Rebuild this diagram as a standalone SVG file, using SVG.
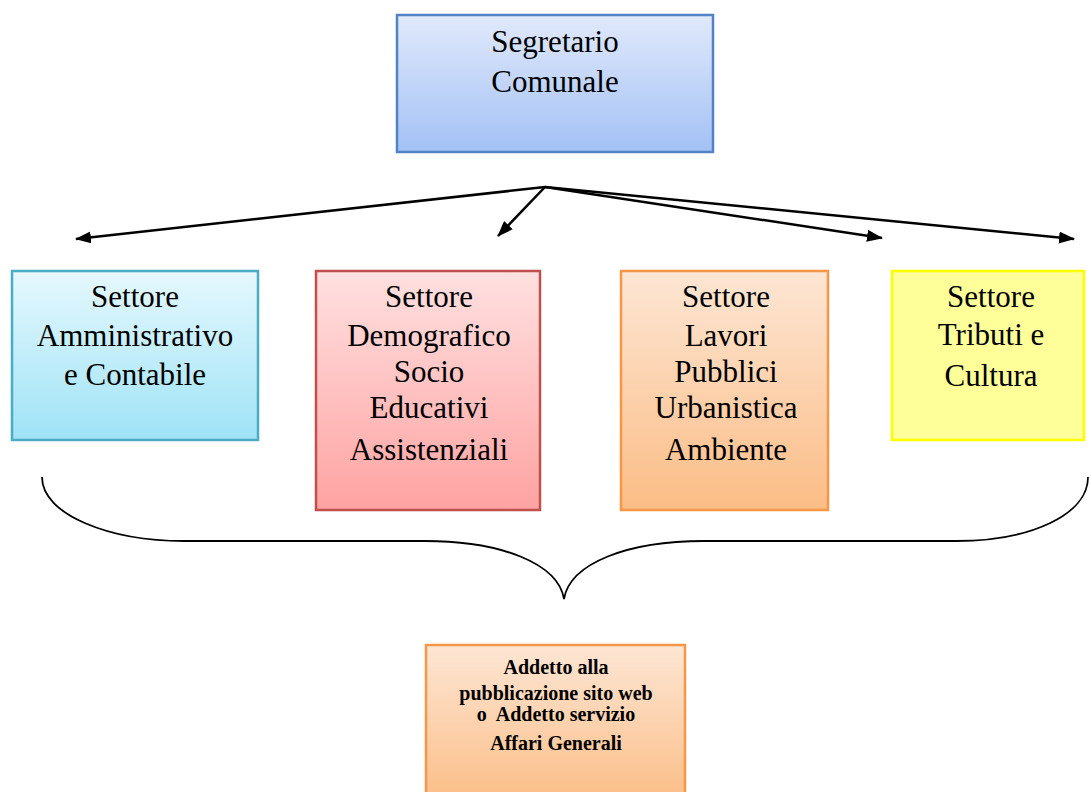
<svg xmlns="http://www.w3.org/2000/svg" width="1089" height="792" viewBox="0 0 1089 792">
  <style>
    .box { stroke-width: 2.5; }
    .t { font-family: "Liberation Serif", "Times New Roman", serif; font-size: 31px; fill: #000; text-anchor: middle; }
    .ts { font-family: "Liberation Serif", "Times New Roman", serif; font-size: 20px; font-weight: bold; fill: #000; text-anchor: middle; }
    .conn { fill: none; stroke: #000; stroke-width: 2.5; }
    .brace { fill: none; stroke: #000; stroke-width: 1.8; }
  </style>
  <defs>
    <linearGradient id="gBlue" x1="0" y1="0" x2="0" y2="1">
      <stop offset="0" stop-color="#e1e9fb"/>
      <stop offset="1" stop-color="#a3c1f5"/>
    </linearGradient>
    <linearGradient id="gCyan" x1="0" y1="0" x2="0" y2="1">
      <stop offset="0" stop-color="#e5f8fd"/>
      <stop offset="1" stop-color="#9fe3f7"/>
    </linearGradient>
    <linearGradient id="gRed" x1="0" y1="0" x2="0" y2="1">
      <stop offset="0" stop-color="#ffe0e0"/>
      <stop offset="1" stop-color="#fea3a2"/>
    </linearGradient>
    <linearGradient id="gOrange" x1="0" y1="0" x2="0" y2="1">
      <stop offset="0" stop-color="#fde6d4"/>
      <stop offset="1" stop-color="#fbbd86"/>
    </linearGradient>
    <marker id="arrow" viewBox="0 0 16 12" refX="15" refY="6" markerWidth="16" markerHeight="12" markerUnits="userSpaceOnUse" orient="auto">
      <path d="M0,0 L16,6 L0,12 Z" fill="#000"/>
    </marker>
  </defs>

  <rect width="1089" height="792" fill="#fff"/>

  <g id="segretario">
    <rect class="box" x="397" y="15" width="316" height="137" fill="url(#gBlue)" stroke="#5282c4"/>
    <text class="t" x="555" y="52">Segretario</text>
    <text class="t" x="555" y="92">Comunale</text>
  </g>

  <g id="connectors">
    <line class="conn" x1="545" y1="187" x2="76" y2="239" marker-end="url(#arrow)"/>
    <line class="conn" x1="545" y1="187" x2="498" y2="236" marker-end="url(#arrow)"/>
    <line class="conn" x1="545" y1="187" x2="882" y2="238" marker-end="url(#arrow)"/>
    <line class="conn" x1="545" y1="187" x2="1074" y2="239" marker-end="url(#arrow)"/>
    <path class="brace" d="M42,477 C42,515 110,541 184,541 L425,541 C500,541 558,563 564,599 C570,563 628,541 704,541 L956,541 C1030,541 1088,515 1088,477"/>
  </g>

  <g id="settore-amministrativo">
    <rect class="box" x="12" y="271" width="246" height="169" fill="url(#gCyan)" stroke="#4bacc6"/>
    <text class="t" x="135" y="307">Settore</text>
    <text class="t" x="135" y="346">Amministrativo</text>
    <text class="t" x="135" y="385">e Contabile</text>
  </g>

  <g id="settore-demografico">
    <rect class="box" x="316" y="271" width="224" height="239" fill="url(#gRed)" stroke="#c0504d"/>
    <text class="t" x="429" y="307">Settore</text>
    <text class="t" x="429" y="346">Demografico</text>
    <text class="t" x="429" y="382">Socio</text>
    <text class="t" x="429" y="418">Educativi</text>
    <text class="t" x="429" y="460">Assistenziali</text>
  </g>

  <g id="settore-lavori">
    <rect class="box" x="621" y="271" width="207" height="239" fill="url(#gOrange)" stroke="#f79646"/>
    <text class="t" x="726" y="307">Settore</text>
    <text class="t" x="726" y="346">Lavori</text>
    <text class="t" x="726" y="382">Pubblici</text>
    <text class="t" x="726" y="418">Urbanistica</text>
    <text class="t" x="726" y="460">Ambiente</text>
  </g>

  <g id="settore-tributi">
    <rect class="box" x="892" y="271" width="192" height="169" fill="#ffff99" stroke="#ffff00"/>
    <text class="t" x="991" y="307">Settore</text>
    <text class="t" x="991" y="345">Tributi e</text>
    <text class="t" x="991" y="386">Cultura</text>
  </g>

  <g id="addetto">
    <rect class="box" x="426" y="645" width="259" height="160" fill="url(#gOrange)" stroke="#f79646"/>
    <text class="ts" x="556" y="674">Addetto alla</text>
    <text class="ts" x="556" y="700">pubblicazione sito web</text>
    <text class="ts" x="556" y="721" xml:space="preserve">o  Addetto servizio</text>
    <text class="ts" x="556" y="750">Affari Generali</text>
  </g>
</svg>
